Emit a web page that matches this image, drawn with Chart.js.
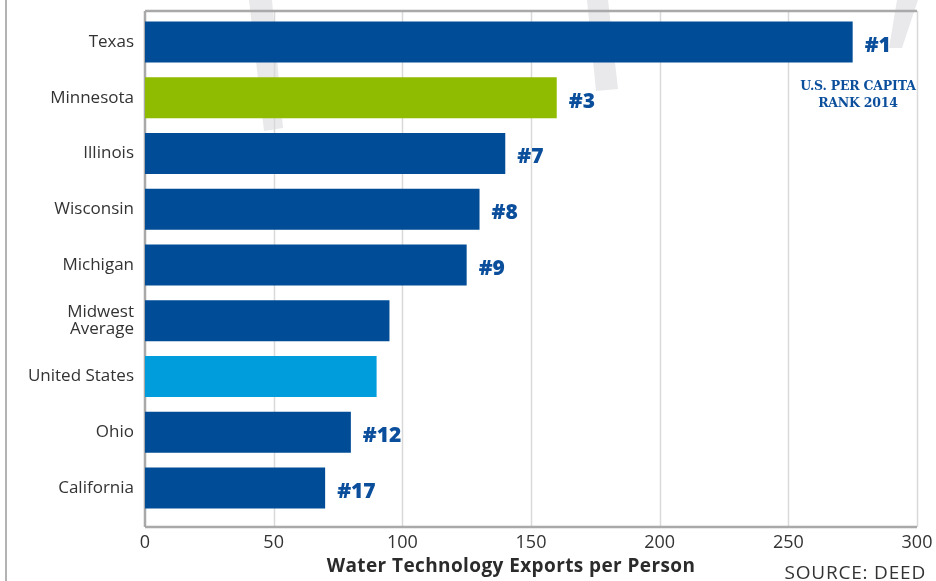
<!DOCTYPE html>
<html>
<head>
<meta charset="utf-8">
<script src="https://cdn.jsdelivr.net/npm/chart.js@4.4.1/dist/chart.umd.min.js"></script>
<style>
  html, body { margin: 0; padding: 0; background: #ffffff; }
  #wrap { position: relative; width: 936px; height: 581px; }
</style>
</head>
<body>
<div id="wrap"><canvas id="c" width="936" height="581"></canvas></div>
<script>
const categories = [["Texas"], ["Minnesota"], ["Illinois"], ["Wisconsin"], ["Michigan"], ["Midwest", "Average"], ["United States"], ["Ohio"], ["California"]];
const exportsPerPerson = [275, 160, 140, 130, 125, 95, 90, 80, 70];
const ranks = ["#1", "#3", "#7", "#8", "#9", "", "", "#12", "#17"];
const barColors = ["#004c97", "#8fbb00", "#004c97", "#004c97", "#004c97", "#004c97", "#009ddc", "#004c97", "#004c97"];
const xTicks = [0, 50, 100, 150, 200, 250, 300];
const axisTitle = "Water Technology Exports per Person";
const sourceText = "SOURCE: DEED";
const noteLines = ["U.S. PER CAPITA", "RANK 2014"];

const FONT = "'Open Sans', 'DejaVu Sans', sans-serif";

const decor = {
  id: 'decor',
  beforeDraw(chart) {
    // faint background watermark strokes
    const ctx = chart.ctx;
    ctx.save();
    ctx.fillStyle = '#e9e9eb';
    const shapes = [
      [[249, 0], [272, 0], [283, 128], [264, 131]],
      [[587, 0], [608, 0], [618, 89], [596, 91]],
      [[897, 0], [918, 0], [902, 48], [889, 48]]
    ];
    shapes.forEach(s => {
      ctx.beginPath();
      ctx.moveTo(s[0][0], s[0][1]);
      for (let i = 1; i < s.length; i++) ctx.lineTo(s[i][0], s[i][1]);
      ctx.closePath();
      ctx.fill();
    });
    ctx.restore();
  },
  beforeDatasetsDraw(chart) {
    const ctx = chart.ctx;
    const x = chart.scales.x;
    const a = chart.chartArea;
    const top = a.top - 3, bottom = a.bottom + 11;
    ctx.save();
    // outer frame line at left
    ctx.strokeStyle = '#b3b3b3';
    ctx.lineWidth = 2;
    ctx.beginPath(); ctx.moveTo(6, 0); ctx.lineTo(6, 581); ctx.stroke();
    // grid lines
    ctx.strokeStyle = '#d9d9d9';
    ctx.lineWidth = 1.5;
    xTicks.forEach(v => {
      if (v === 0) return;
      const px = Math.round(x.getPixelForValue(v)) + 0.5;
      ctx.beginPath(); ctx.moveTo(px, top); ctx.lineTo(px, bottom); ctx.stroke();
    });
    // top border, left axis, bottom axis
    ctx.strokeStyle = '#a9a9a9';
    ctx.lineWidth = 2.5;
    const x0 = x.getPixelForValue(0);
    const x1 = x.getPixelForValue(300);
    ctx.beginPath(); ctx.moveTo(x0, top); ctx.lineTo(x1, top); ctx.stroke();
    ctx.beginPath(); ctx.moveTo(x0, top); ctx.lineTo(x0, bottom); ctx.stroke();
    ctx.beginPath(); ctx.moveTo(x0, bottom); ctx.lineTo(x1, bottom); ctx.stroke();
    ctx.restore();
  },
  afterDatasetsDraw(chart) {
    const ctx = chart.ctx;
    const meta = chart.getDatasetMeta(0);
    ctx.save();
    ctx.fillStyle = '#0b4f9c';
    ctx.font = "800 21px 'Open Sans', 'DejaVu Sans', sans-serif";
    ctx.textAlign = 'left';
    ctx.textBaseline = 'middle';
    meta.data.forEach((bar, i) => {
      if (!ranks[i]) return;
      ctx.fillText(ranks[i], bar.x + 12, bar.y + 4);
    });
    // note under #1
    ctx.font = "bold 12.5px 'DejaVu Serif', serif";
    ctx.textAlign = 'center';
    ctx.textBaseline = 'alphabetic';
    ctx.letterSpacing = '-0.2px';
    ctx.fillText(noteLines[0], 858, 90);
    ctx.fillText(noteLines[1], 858, 107);
    // axis title
    ctx.fillStyle = '#2b2b2b';
    ctx.font = "bold 19px " + FONT;
    ctx.letterSpacing = '0.4px';
    ctx.fillText(axisTitle, 511, 572);
    // source
    ctx.fillStyle = '#333333';
    ctx.font = "19px " + FONT;
    ctx.letterSpacing = '0.8px';
    ctx.textAlign = 'right';
    ctx.fillText(sourceText, 926, 579);
    ctx.restore();
  }
};

new Chart(document.getElementById('c'), {
  type: 'bar',
  data: {
    labels: categories,
    datasets: [{
      data: exportsPerPerson,
      backgroundColor: barColors,
      borderWidth: 0,
      barPercentage: 0.735,
      categoryPercentage: 1.0
    }]
  },
  options: {
    indexAxis: 'y',
    responsive: false,
    animation: false,
    devicePixelRatio: 1,
    layout: { padding: { top: 14, right: 19, left: 0, bottom: 0 } },
    plugins: { legend: { display: false }, tooltip: { enabled: false }, title: { display: false } },
    scales: {
      x: {
        min: 0, max: 300,
        afterBuildTicks(scale) { scale.ticks = xTicks.map(v => ({ value: v })); },
        afterFit(scale) { scale.height = 65; scale.paddingLeft = 0; scale.paddingRight = 0; },
        grid: { display: false, drawTicks: false },
        border: { display: false },
        ticks: { color: '#333333', font: { family: FONT, size: 18 }, padding: 16, maxRotation: 0 }
      },
      y: {
        afterFit(scale) { scale.width = 145; scale.paddingTop = 0; scale.paddingBottom = 0; },
        grid: { display: false, drawTicks: false },
        border: { display: false },
        ticks: { color: '#333333', font: { family: FONT, size: 17, lineHeight: 1.0 }, padding: 11 }
      }
    }
  },
  plugins: [decor]
});
</script>
</body>
</html>
